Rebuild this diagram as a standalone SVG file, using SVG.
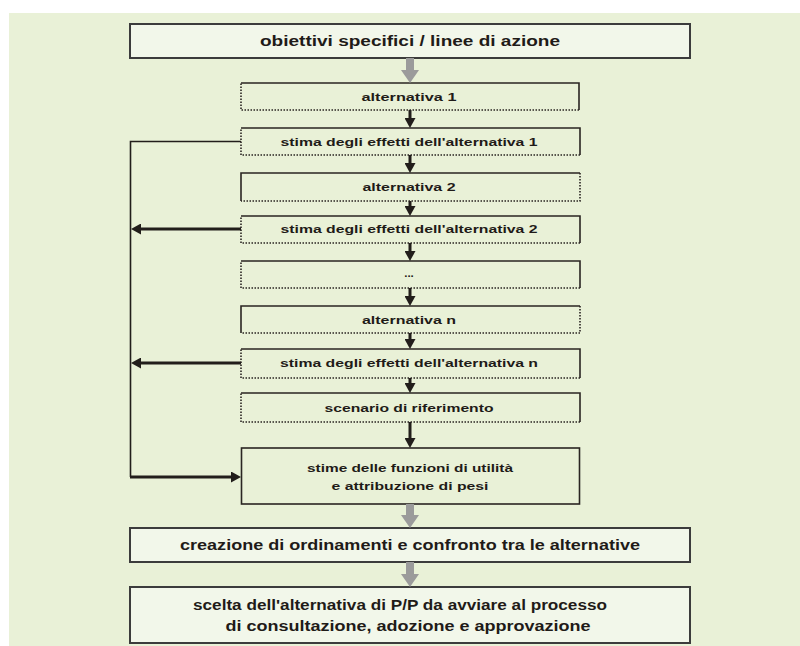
<svg xmlns="http://www.w3.org/2000/svg" width="800" height="646" viewBox="0 0 800 646">
  <defs>
    <marker id="ah" markerUnits="userSpaceOnUse" viewBox="0 0 10 11" markerWidth="10" markerHeight="11" refX="2" refY="5.5" orient="auto">
      <path d="M0,0 L10,5.5 L0,11 z" fill="#221e1b"/>
    </marker>
    <marker id="gh" markerUnits="userSpaceOnUse" viewBox="0 0 13 18" markerWidth="13" markerHeight="18" refX="1" refY="9" orient="auto">
      <path d="M0,0 L13,9 L0,18 z" fill="#9b9b9b"/>
    </marker>
  </defs>
  <style>
    .panel { fill: #e9f1d7; }
    .main { fill: #f2f7ea; stroke: #3c3c3c; stroke-width: 2; }
    .plain { fill: #e9f1d7; stroke: #2a2522; stroke-width: 1.6; }
    .solid { fill: none; stroke: #2a2522; stroke-width: 1.6; }
    .dots { fill: none; stroke: #2a2522; stroke-width: 1.6; stroke-dasharray: 1.5 1.5; }
    .lbl { font-family: "Liberation Sans", Arial, sans-serif; font-weight: bold; fill: #1f1b18; text-anchor: middle; }
    .big { font-size: 14px; }
    .small { font-size: 11.5px; }
    .flow { fill: none; stroke: #221e1b; stroke-width: 3; }
    .thin { fill: none; stroke: #221e1b; stroke-width: 1.6; }
    .grey { fill: none; stroke: #9b9b9b; stroke-width: 8; }
  </style>

  <!-- background panel -->
  <rect class="panel" x="9" y="13" width="791" height="633"/>

  <!-- nodes -->
  <g id="obiettivi">
    <rect class="main" x="130" y="24" width="560" height="34"/>
    <text class="lbl big" x="410" y="46" textLength="300" lengthAdjust="spacingAndGlyphs">obiettivi specifici / linee di azione</text>
  </g>

  <g id="alternativa-1">
    <path class="solid" d="M241,83 H579 V110"/>
    <path class="dots" d="M579,110 H241 V83"/>
    <text class="lbl small" x="409" y="101" textLength="95" lengthAdjust="spacingAndGlyphs">alternativa 1</text>
  </g>

  <g id="stima-1">
    <path class="solid" d="M241,128 H580 V155"/>
    <path class="dots" d="M580,155 H241 V128"/>
    <text class="lbl small" x="409" y="146" textLength="257" lengthAdjust="spacingAndGlyphs">stima degli effetti dell'alternativa 1</text>
  </g>

  <g id="alternativa-2">
    <path class="solid" d="M241,201 V173 H580"/>
    <path class="dots" d="M580,173 V201 H241"/>
    <text class="lbl small" x="409" y="191" textLength="93" lengthAdjust="spacingAndGlyphs">alternativa 2</text>
  </g>

  <g id="stima-2">
    <path class="solid" d="M241,216 H580 V243"/>
    <path class="dots" d="M580,243 H241 V216"/>
    <text class="lbl small" x="409" y="233" textLength="257" lengthAdjust="spacingAndGlyphs">stima degli effetti dell'alternativa 2</text>
  </g>

  <g id="puntini">
    <path class="solid" d="M241,261 H580 V288"/>
    <path class="dots" d="M580,288 H241 V261"/>
    <text class="lbl small" x="409" y="277">...</text>
  </g>

  <g id="alternativa-n">
    <path class="solid" d="M241,333 V306 H580"/>
    <path class="dots" d="M580,306 V333 H241"/>
    <text class="lbl small" x="409" y="324" textLength="94" lengthAdjust="spacingAndGlyphs">alternativa n</text>
  </g>

  <g id="stima-n">
    <path class="solid" d="M241,349 H580 V378"/>
    <path class="dots" d="M580,378 H241 V349"/>
    <text class="lbl small" x="409" y="367" textLength="258" lengthAdjust="spacingAndGlyphs">stima degli effetti dell'alternativa n</text>
  </g>

  <g id="scenario">
    <path class="solid" d="M241,393 H580 V422"/>
    <path class="dots" d="M580,422 H241 V393"/>
    <text class="lbl small" x="409" y="412" textLength="169" lengthAdjust="spacingAndGlyphs">scenario di riferimento</text>
  </g>

  <g id="stime-funzioni">
    <rect class="plain" x="241.5" y="448" width="338" height="56"/>
    <text class="lbl small" x="410" y="472" textLength="206" lengthAdjust="spacingAndGlyphs">stime delle funzioni di utilità</text>
    <text class="lbl small" x="410" y="490" textLength="157" lengthAdjust="spacingAndGlyphs">e attribuzione di pesi</text>
  </g>

  <g id="creazione">
    <rect class="main" x="130" y="528" width="560" height="34"/>
    <text class="lbl big" x="410" y="550" textLength="460" lengthAdjust="spacingAndGlyphs">creazione di ordinamenti e confronto tra le alternative</text>
  </g>

  <g id="scelta">
    <rect class="main" x="130" y="587" width="560" height="56"/>
    <text class="lbl big" x="400" y="610" textLength="414" lengthAdjust="spacingAndGlyphs">scelta dell'alternativa di P/P da avviare al processo</text>
    <text class="lbl big" x="408" y="631" textLength="365" lengthAdjust="spacingAndGlyphs">di consultazione, adozione e approvazione</text>
  </g>

  <!-- connectors -->
  <g id="connectors">
    <!-- grey arrows between main stages -->
    <line class="grey" x1="410" y1="58" x2="410" y2="71" marker-end="url(#gh)"/>
    <line class="grey" x1="410" y1="504" x2="410" y2="516" marker-end="url(#gh)"/>
    <line class="grey" x1="410" y1="562" x2="410" y2="575" marker-end="url(#gh)"/>

    <!-- black arrows down the chain -->
    <line class="flow" x1="410" y1="110" x2="410" y2="120" marker-end="url(#ah)"/>
    <line class="flow" x1="410" y1="155" x2="410" y2="165" marker-end="url(#ah)"/>
    <line class="flow" x1="410" y1="201" x2="410" y2="208" marker-end="url(#ah)"/>
    <line class="flow" x1="410" y1="243" x2="410" y2="253" marker-end="url(#ah)"/>
    <line class="flow" x1="410" y1="288" x2="410" y2="298" marker-end="url(#ah)"/>
    <line class="flow" x1="410" y1="333" x2="410" y2="341" marker-end="url(#ah)"/>
    <line class="flow" x1="410" y1="378" x2="410" y2="385" marker-end="url(#ah)"/>
    <line class="flow" x1="410" y1="422" x2="410" y2="440" marker-end="url(#ah)"/>

    <!-- feedback bus on the left -->
    <polyline class="thin" points="241,141.5 130.5,141.5 130.5,477"/>
    <line class="flow" x1="241" y1="229" x2="139" y2="229" marker-end="url(#ah)"/>
    <line class="flow" x1="241" y1="363" x2="139" y2="363" marker-end="url(#ah)"/>
    <line class="flow" x1="130" y1="477" x2="233" y2="477" marker-end="url(#ah)"/>
  </g>
</svg>
